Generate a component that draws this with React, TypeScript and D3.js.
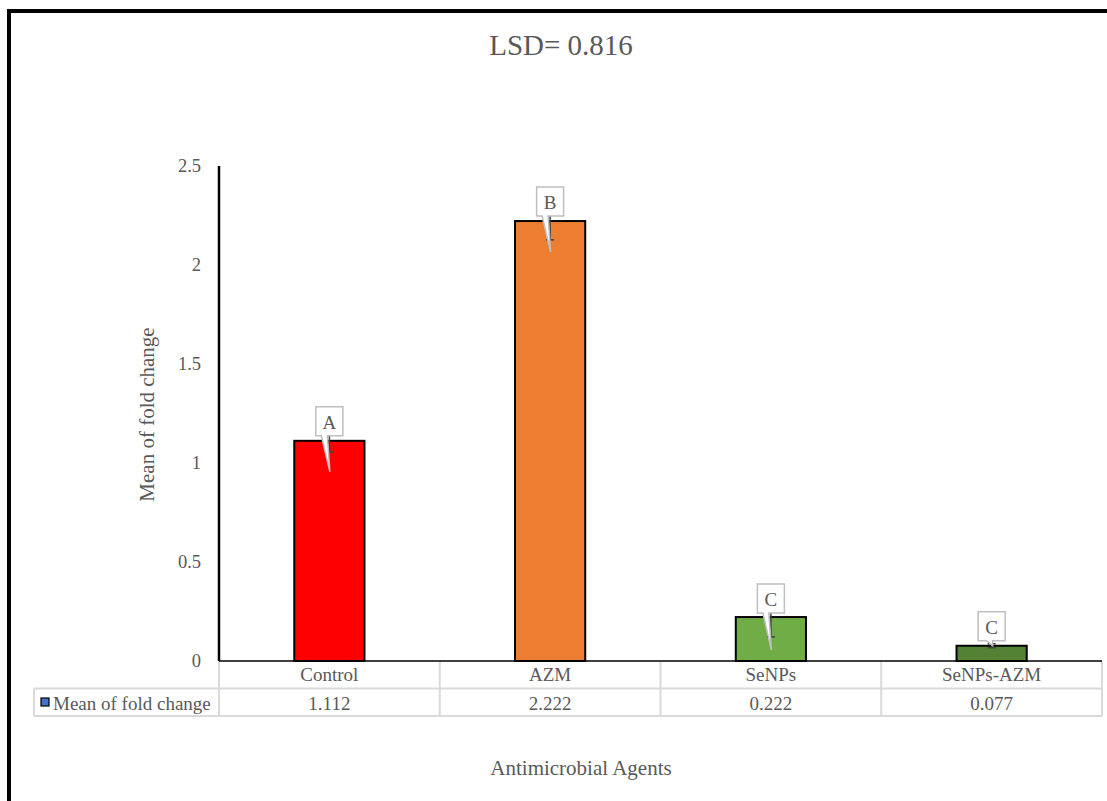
import React from "react";
import * as d3 from "d3";

const categories = ["Control", "AZM", "SeNPs", "SeNPs-AZM"];
const meanFoldChange = [1.112, 2.222, 0.222, 0.077];
const errorValues = [0.055, 0.095, 0.1, 0.01];
const groupLetters = ["A", "B", "C", "C"];
const yTicks = [0, 0.5, 1, 1.5, 2, 2.5];
const barColors = ["#ff0000", "#ed7d31", "#70ad47", "#548235"];

const seriesName = "Mean of fold change";
const titleText = "LSD= 0.816";
const xTitle = "Antimicrobial Agents";

const FONT = "Liberation Serif, Tinos, Times New Roman, DejaVu Serif, serif";
const TEXT = "#595959";
const GRID = "#d9d9d9";

export default function App() {
  const W = 1107;
  const H = 801;
  const left = 219;
  const right = 1102;
  const top = 166;
  const base = 661;
  const rowH = 27.5;

  const x = d3.scaleBand<string>().domain(categories).range([left, right]).padding(0);
  const y = d3.scaleLinear().domain([0, 2.5]).range([base, top]);
  const bw = x.bandwidth();
  const barW = bw * 0.318;

  const row1 = base + rowH;
  const row2 = base + rowH * 2;
  const legendLeft = 34;

  // callout geometry, relative to the bar top / centre
  const callouts = [
    { tipDy: 31, tipDx: 0.5, boxGap: 36, baseA: -8, baseB: -2 },
    { tipDy: 31, tipDx: 0.5, boxGap: 36, baseA: -8, baseB: -2 },
    { tipDy: 33, tipDx: 0.5, boxGap: 37, baseA: -8, baseB: -2 },
    { tipDy: 0, tipDx: 1, boxGap: 5, baseA: -5, baseB: 1 },
  ];
  const boxW = 27;
  const boxH = 29;
  const ts = { fontFamily: FONT };

  return (
    <svg
      width={W}
      height={H}
      style={{ position: "absolute", left: 0, top: 0, background: "#fff", fontFamily: FONT }}
    >
      <rect x={0} y={0} width={W} height={H} fill="#fff" />
      {/* outer frame */}
      <rect x={9} y={11} width={1300} height={1000} fill="none" stroke="#000" strokeWidth={4} />

      <text x={561} y={55} textAnchor="middle" fontSize={29} fill={TEXT} style={ts}>
        {titleText}
      </text>

      {/* y tick labels */}
      {yTicks.map((t) => (
        <text key={t} x={201} y={y(t) + 6} textAnchor="end" fontSize={18.5} fill={TEXT} style={ts}>
          {t}
        </text>
      ))}

      <text
        transform={`translate(154,${(top + base) / 2 + 1}) rotate(-90)`}
        textAnchor="middle"
        fontSize={21}
        fill={TEXT}
        style={ts}
      >
        {seriesName}
      </text>

      {/* bars */}
      {categories.map((c, i) => {
        const cx = (x(c) as number) + bw / 2;
        return (
          <rect
            key={c}
            x={cx - barW / 2}
            y={y(meanFoldChange[i])}
            width={barW}
            height={base - y(meanFoldChange[i])}
            fill={barColors[i]}
            stroke="#000"
            strokeWidth={2}
          />
        );
      })}

      {/* error bars */}
      {categories.map((c, i) => {
        const cx = (x(c) as number) + bw / 2;
        const y0 = y(meanFoldChange[i] - errorValues[i]);
        const y1 = y(meanFoldChange[i] + errorValues[i]);
        return (
          <g key={c} stroke="#404040" strokeWidth={1.5}>
            <line x1={cx} x2={cx} y1={y0} y2={y1} />
            <line x1={cx - 4} x2={cx + 4} y1={y0} y2={y0} />
            <line x1={cx - 4} x2={cx + 4} y1={y1} y2={y1} />
          </g>
        );
      })}

      {/* letter callouts */}
      {categories.map((c, i) => {
        const cx = (x(c) as number) + bw / 2;
        const cfg = callouts[i];
        const barTop = y(meanFoldChange[i]);
        const tipX = cx + cfg.tipDx;
        const tipY = barTop + cfg.tipDy;
        const by1 = tipY - cfg.boxGap;
        const by0 = by1 - boxH;
        const bx0 = cx - boxW / 2;
        const bx1 = cx + boxW / 2;
        const d = `M${bx0},${by0}H${bx1}V${by1}H${cx + cfg.baseB}L${tipX},${tipY}L${cx + cfg.baseA},${by1}H${bx0}Z`;
        return (
          <g key={c}>
            <path d={d} fill="#fff" stroke="#bfbfbf" strokeWidth={1.5} strokeLinejoin="miter" />
            <text x={cx} y={by0 + 22} textAnchor="middle" fontSize={19} fill={TEXT} style={ts}>
              {groupLetters[i]}
            </text>
          </g>
        );
      })}

      {/* data table */}
      <g stroke={GRID} strokeWidth={2} fill="none">
        <line x1={legendLeft} x2={right} y1={row1} y2={row1} />
        <line x1={legendLeft} x2={right} y1={row2} y2={row2} />
        <line x1={legendLeft} x2={legendLeft} y1={row1} y2={row2} />
        {categories.map((c) => (
          <line key={c} x1={x(c) as number} x2={x(c) as number} y1={base} y2={row2} />
        ))}
        <line x1={right} x2={right} y1={base} y2={row2} />
      </g>
      {categories.map((c, i) => {
        const cx = (x(c) as number) + bw / 2;
        return (
          <g key={c} fontSize={19} fill={TEXT} textAnchor="middle">
            <text x={cx} y={base + 20} style={ts}>{c}</text>
            <text x={cx} y={row1 + 21} style={ts}>{meanFoldChange[i].toFixed(3)}</text>
          </g>
        );
      })}
      <rect x={41} y={698} width={8} height={8} fill="#4472c4" stroke="#000" strokeWidth={1.2} />
      <text x={53} y={row1 + 21} fontSize={19} fill={TEXT} style={ts}>
        {seriesName}
      </text>

      {/* axes */}
      <line x1={left} x2={right} y1={base} y2={base} stroke="#000" strokeWidth={1.5} />
      <line x1={left} x2={left} y1={top} y2={base} stroke="#000" strokeWidth={2.5} />

      <text x={581} y={775} textAnchor="middle" fontSize={21} fill={TEXT} style={ts}>
        {xTitle}
      </text>
    </svg>
  );
}
